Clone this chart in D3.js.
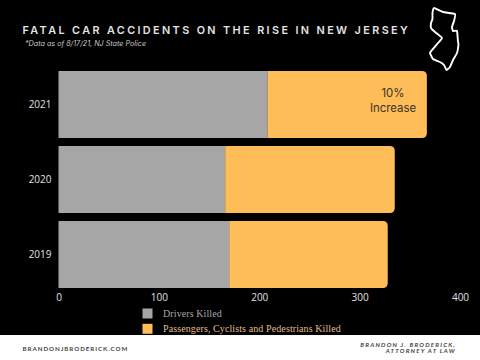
<!DOCTYPE html>
<html>
<head>
<meta charset="utf-8">
<script src="https://cdn.jsdelivr.net/npm/d3@7"></script>
<style>
  html, body { margin: 0; padding: 0; background: #000; }
  svg { display: block; }
</style>
</head>
<body>
<svg id="chart"></svg>
<script>
const years = ["2021", "2020", "2019"];
const driversKilled = [208, 166, 170];
const othersKilled = [159, 169, 158];
const xTicks = [0, 100, 200, 300, 400];
const legendLabels = ["Drivers Killed", "Passengers, Cyclists and Pedestrians Killed"];

const width = 480;
const height = 360;
const grey = "#a6a6a6";
const orange = "#ffbd59";
const cornerRadius = 5;

const chart = d3.select("#chart").attr("width", width).attr("height", height);

chart.append("rect").attr("width", width).attr("height", height).attr("fill", "#000");

const xScale = d3.scaleLinear().domain([0, 400]).range([58.5, 460]);
const yScale = d3.scaleBand().domain(years).range([71, 288]).paddingInner(0.107);
const colorScale = d3.scaleOrdinal().domain(legendLabels).range([grey, orange]);

const rows = years.map((year, i) => ({
  year,
  drivers: driversKilled[i],
  total: driversKilled[i] + othersKilled[i],
}));

// Title block
chart
  .append("text")
  .attr("x", 22.5)
  .attr("y", 33.5)
  .attr("fill", "#e4e4e4")
  .attr("font-family", "Inter")
  .attr("font-weight", 600)
  .attr("font-size", 10.8)
  .attr("letter-spacing", 2.4)
  .text("FATAL CAR ACCIDENTS ON THE RISE IN NEW JERSEY");

chart
  .append("text")
  .attr("x", 25)
  .attr("y", 46)
  .attr("fill", "#c8c8c8")
  .attr("font-family", "Inter")
  .attr("font-style", "italic")
  .attr("font-size", 7.2)
  .text("*Data as of 8/17/21, NJ State Police");

// New Jersey outline
const njOutline = [
  [434, 8], [443, 12], [455, 14], [454, 21], [452, 27], [453, 31], [457, 31],
  [458, 42], [458.5, 44], [457, 53], [453, 60], [450, 67], [446.5, 70], [444, 65],
  [440, 62], [433, 59], [430, 53], [432, 50], [438, 43], [442, 38], [435, 32],
  [431, 28], [431, 23], [432.5, 19], [432.5, 13],
];

chart
  .append("path")
  .attr("d", d3.line().curve(d3.curveCardinalClosed.tension(0.6))(njOutline))
  .attr("fill", "none")
  .attr("stroke", "#fff")
  .attr("stroke-width", 1.9)
  .attr("stroke-linejoin", "round");

// Bars
chart
  .selectAll(".total")
  .data(rows)
  .enter()
  .append("path")
  .attr("class", "total")
  .attr("fill", orange)
  .attr("d", (d) => {
    const x0 = xScale(d.drivers);
    const x1 = xScale(d.total);
    const y0 = yScale(d.year);
    const y1 = y0 + yScale.bandwidth();
    const r = cornerRadius;
    return `M${x0},${y0}H${x1 - r}Q${x1},${y0} ${x1},${y0 + r}V${y1 - r}Q${x1},${y1} ${x1 - r},${y1}H${x0}Z`;
  });

chart
  .selectAll(".drivers")
  .data(rows)
  .enter()
  .append("rect")
  .attr("class", "drivers")
  .attr("x", xScale(0))
  .attr("y", (d) => yScale(d.year))
  .attr("width", (d) => xScale(d.drivers) - xScale(0))
  .attr("height", yScale.bandwidth())
  .attr("fill", grey);

// Annotation on the 2021 bar
const note = chart
  .append("text")
  .attr("fill", "#3a3226")
  .attr("font-family", "Inter")
  .attr("font-size", 11.4)
  .attr("text-anchor", "middle");
note.append("tspan").attr("x", 393).attr("y", 96.7).text("10%");
note.append("tspan").attr("x", 393).attr("y", 112).text("Increase");

// Axis labels
const yAxis = chart
  .append("g")
  .attr("transform", `translate(${xScale(0)},0)`)
  .call(d3.axisLeft(yScale).tickSize(0).tickPadding(7));

const xAxis = chart
  .append("g")
  .attr("transform", "translate(0,288)")
  .call(d3.axisBottom(xScale).tickValues(xTicks).tickSize(0).tickPadding(6).tickFormat(d3.format("d")));

[xAxis, yAxis].forEach((axis) => {
  axis.select(".domain").remove();
  axis
    .selectAll("text")
    .attr("fill", "#e0e0e0")
    .attr("font-family", "Open Sans")
    .attr("font-size", 10);
});

// Legend
const legend = chart
  .selectAll(".legend-item")
  .data(legendLabels)
  .enter()
  .append("g")
  .attr("class", "legend-item")
  .attr("transform", (d, i) => `translate(142.5,${308.5 + i * 15.3})`);

legend
  .append("rect")
  .attr("width", 10)
  .attr("height", 10)
  .attr("fill", (d) => colorScale(d));

legend
  .append("text")
  .attr("x", 20.5)
  .attr("y", 8)
  .attr("fill", (d, i) => (i === 0 ? "#a6a6a6" : "#e0bd8c"))
  .attr("font-family", "Liberation Serif")
  .attr("font-size", 10)
  .attr("letter-spacing", 0.1)
  .text((d) => d);

// Footer band
chart.append("rect").attr("y", 335).attr("width", width).attr("height", 25).attr("fill", "#fff");

chart
  .append("text")
  .attr("x", 22.5)
  .attr("y", 351)
  .attr("fill", "#444")
  .attr("font-family", "Lato")
  .attr("font-weight", 700)
  .attr("font-size", 6.2)
  .attr("letter-spacing", 0.95)
  .text("BRANDONJBRODERICK.COM");

const firm = chart
  .append("text")
  .attr("fill", "#444")
  .attr("font-family", "Lato")
  .attr("font-style", "italic")
  .attr("font-weight", 700)
  .attr("font-size", 6.2)
  .attr("letter-spacing", 1.2)
  .attr("text-anchor", "end");
firm.append("tspan").attr("x", 456).attr("y", 346.8).text("BRANDON J. BRODERICK,");
firm.append("tspan").attr("x", 456).attr("y", 352.8).text("ATTORNEY AT LAW");
</script>
</body>
</html>
